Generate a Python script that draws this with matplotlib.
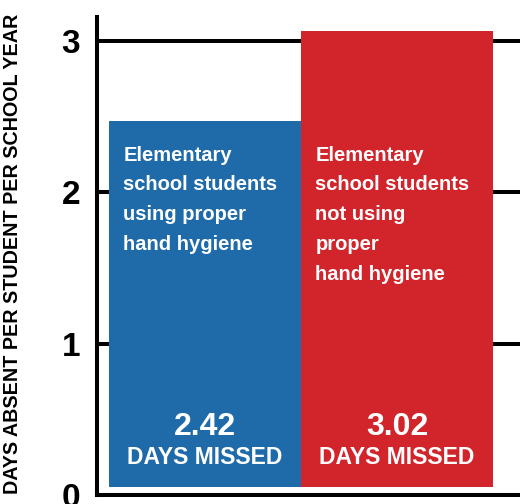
import matplotlib.pyplot as plt

# data
values = [2.42, 3.02]
positions = [0, 1]
colors = ["#1F6BAA", "#D2252B"]
bar_titles = [
    "Elementary\nschool students\nusing proper\nhand hygiene",
    "Elementary\nschool students\nnot using\nproper\nhand hygiene",
]
yticks = [0, 1, 2, 3]
ylabel = "DAYS ABSENT PER STUDENT PER SCHOOL YEAR"

plt.rcParams["font.family"] = ["Liberation Sans", "DejaVu Sans"]

fig = plt.figure(figsize=(5.2, 5.04), dpi=100)
ax = fig.add_axes([97 / 520, 9 / 504, 1 - 97 / 520, (495 - 17) / 504])

ax.bar(positions, values, width=1.0, bottom=0.05, color=colors, zorder=3)

for x, v, title in zip(positions, values, bar_titles):
    ax.text(x - 0.425, 2.31, title, color="white", fontsize=14.5, fontweight="bold",
            ha="left", va="top", linespacing=1.72, zorder=4)
    ax.text(x, 0.45, f"{v:.2f}", color="white", fontsize=23, fontweight="bold",
            ha="center", va="center", zorder=4)
    ax.text(x, 0.25, "DAYS MISSED", color="white", fontsize=16.5, fontweight="bold",
            ha="center", va="center", zorder=4)

ax.set_xlim(-0.563, 1.641)
ax.set_ylim(0, 3.16)
ax.set_yticks(yticks)
ax.set_yticklabels([str(t) for t in yticks], fontsize=24, fontweight="bold")
ax.tick_params(axis="y", length=0, pad=12)
ax.set_xticks([])

ax.set_axisbelow(True)
ax.yaxis.grid(True, color="black", linewidth=2.9)
for s in ["top", "right"]:
    ax.spines[s].set_visible(False)
for s in ["left", "bottom"]:
    ax.spines[s].set_linewidth(2.9)
    ax.spines[s].set_color("black")

fig.text(13 / 520, 0.497, ylabel, rotation=90, ha="center", va="center",
         fontsize=14.2, fontweight="bold")

fig.savefig("out.png", dpi=100)
